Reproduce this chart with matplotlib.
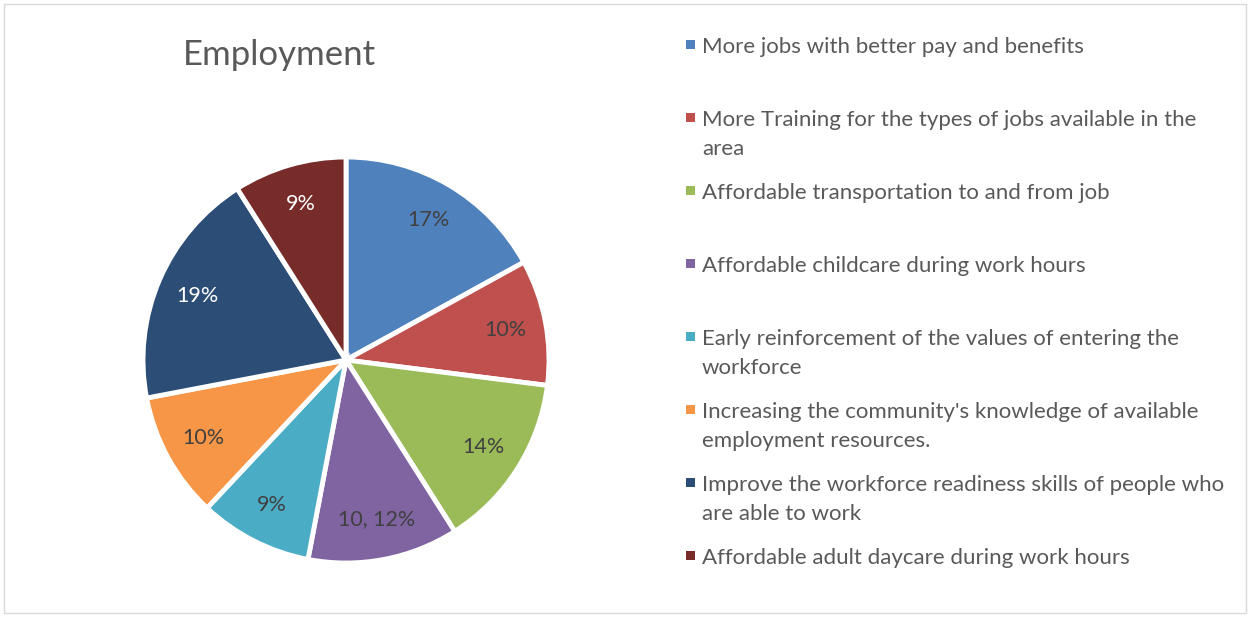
import matplotlib.pyplot as plt
from matplotlib.patches import Rectangle

plt.rcParams['font.family'] = ['Lato', 'DejaVu Sans']

categories = [
    "More jobs with better pay and benefits",
    "More Training for the types of jobs available in the\narea",
    "Affordable transportation to and from job",
    "Affordable childcare during work hours",
    "Early reinforcement of the values of entering the\nworkforce",
    "Increasing the community's knowledge of available\nemployment resources.",
    "Improve the workforce readiness skills of people who\nare able to work",
    "Affordable adult daycare during work hours",
]
shares = [17, 10, 14, 12, 9, 10, 19, 9]
slice_labels = ["17%", "10%", "14%", "10, 12%", "9%", "10%", "19%", "9%"]
colors = ["#4F81BD", "#C0504D", "#9BBB59", "#8064A2",
          "#4BACC6", "#F79646", "#2C4D75", "#772C2A"]
label_colors = ["#404040"] * 6 + ["white", "white"]

W, H = 1250, 617
fig = plt.figure(figsize=(W / 100, H / 100), dpi=100)

# light frame around the chart area
fig.add_artist(Rectangle((4 / W, 4 / H), 1242 / W, 609 / H, transform=fig.transFigure,
                         fill=False, edgecolor="#d9d9d9", linewidth=1))

cx, cy, r = 346, 360, 203
ax = fig.add_axes([(cx - r) / W, (H - cy - r) / H, 2 * r / W, 2 * r / H])

wedges, texts = ax.pie(shares, colors=colors, startangle=90, counterclock=False,
                       labels=slice_labels, labeldistance=0.8,
                       wedgeprops=dict(edgecolor="white", linewidth=3.5))
for t, c in zip(texts, label_colors):
    t.set_color(c)
    t.set_fontsize(15.5)
    t.set_ha("center")
    t.set_va("center")
ax.set_xlim(-1, 1)
ax.set_ylim(-1, 1)

fig.text(279 / W, 1 - 55 / H, "Employment", fontsize=25, color="#595959",
         ha="center", va="center")

# legend, one slot per entry as in the original layout
for i, (name, col) in enumerate(zip(categories, colors)):
    y = 45 + 73 * i
    fig.add_artist(Rectangle((686 / W, 1 - (y + 4) / H), 9 / W, 9 / H,
                             transform=fig.transFigure, facecolor=col, edgecolor="none"))
    fig.text(702 / W, 1 - (y - 8) / H, name, fontsize=16, color="#595959",
             ha="left", va="top", linespacing=1.59)

fig.savefig("out.png", dpi=100)
